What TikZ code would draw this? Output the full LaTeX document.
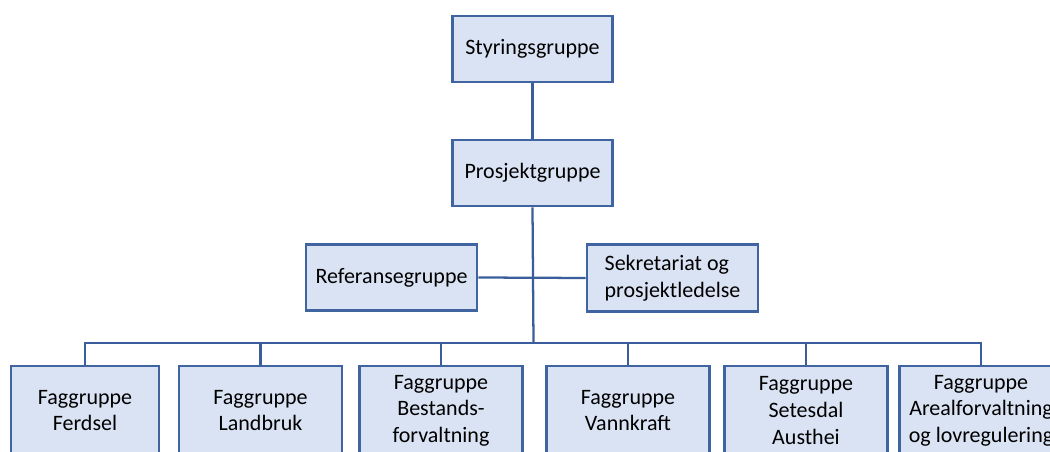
\documentclass[tikz,border=0pt]{standalone}
\usepackage{fontspec}
\setmainfont{Carlito}
\definecolor{boxfill}{HTML}{DAE3F3}
\definecolor{boxline}{HTML}{40649F}
\definecolor{conline}{HTML}{3A5D9C}
\begin{document}
\begin{tikzpicture}[x=0.75pt,y=-0.75pt,
  orgbox/.style={draw=boxline, line width=2.1pt, fill=boxfill, align=center,
    inner sep=0pt, font=\fontsize{16.5}{20}\selectfont},
  topbox/.style={orgbox, minimum width=120pt, minimum height=49.5pt},
  midbox/.style={orgbox, minimum width=128.25pt, minimum height=50pt},
  fagbox/.style={orgbox, minimum width=122.25pt, minimum height=66.75pt},
  conn/.style={draw=conline, line width=1.7pt}]
\useasboundingbox (0,0) rectangle (1050,452);
\clip (0,0) rectangle (1050,452);
\node[topbox] (styr) at (532.5,49) {Styringsgruppe};
\node[topbox] (prosj) at (532.5,173) {Prosjektgruppe};
\node[midbox] (ref) at (391.5,277.5) {Referansegruppe};
\node[midbox, align=left] (sek) at (672.5,278) {Sekretariat og\\prosjektledelse};
\coordinate (hub) at (533.5,343);
\node[fagbox, minimum width=111pt] (f1) at (85,410.5) {Faggruppe\\Ferdsel};
\node[fagbox] (f2) at (260.5,410.5) {Faggruppe\\Landbruk};
\node[fagbox] (f3) at (441,410.5) {Faggruppe\\Bestands-\\forvaltning};
\node[fagbox] (f4) at (628,410.5) {Faggruppe\\Vannkraft};
\node[fagbox] (f5) at (806,410.5) {Faggruppe\\Setesdal\\Austhei};
\node[fagbox] (f6) at (981,410.5) {Faggruppe\\Arealforvaltning\\og lovregulering};
\draw[conn] (styr.south) -- (prosj.north);
\draw[conn] (prosj.south) -- (hub);
\draw[conn] (ref.east) -- (sek.west);
\foreach \f in {f1,f2,f3,f4,f5,f6} {
  \draw[conn] (hub) -| (\f.north);
}
\end{tikzpicture}
\end{document}
